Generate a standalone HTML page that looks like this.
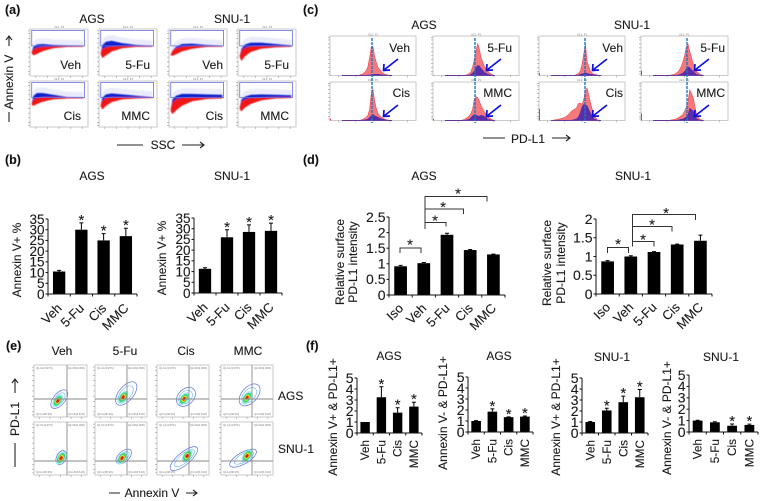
<!DOCTYPE html>
<html lang="en">
<head>
<meta charset="utf-8">
<title>Annexin V and PD-L1 figure</title>
<style>
html,body{margin:0;padding:0;background:#fff;width:762px;height:501px;overflow:hidden}
svg{display:block;font-family:"Liberation Sans",Arial,sans-serif;fill:#222;filter:blur(0.3px)}
text{fill:#1a1a1a;stroke:#1a1a1a;stroke-width:0.12}
text.tiny{font-size:2.6px;fill:#777;stroke:none}
.lab{font-size:12px}
.bold{font-size:12.5px;font-weight:bold;fill:#111}
</style>
</head>
<body>
<svg id="fig" width="762" height="501" viewBox="0 0 762 501" xmlns="http://www.w3.org/2000/svg">
<defs>
<filter id="soft" x="-5%" y="-5%" width="110%" height="110%"><feGaussianBlur stdDeviation="0.5"/></filter>
<filter id="softer" x="-5%" y="-5%" width="110%" height="110%"><feGaussianBlur stdDeviation="0.28"/></filter>
</defs>
<rect width="762" height="501" fill="#fff"/>

<text class="bold" x="5" y="14">(a)</text>
<text class="lab" x="92" y="23" text-anchor="middle">AGS</text>
<text class="lab" x="232" y="23" text-anchor="middle">SNU-1</text>
<text class="lab" transform="translate(13,82) rotate(-90)" text-anchor="middle">Annexin V</text>
<path d="M9 122V112M9 46V36M6 40l3-4 3 4" fill="none" stroke="#222" stroke-width="1.1"/>
<text class="lab" x="163" y="149" text-anchor="middle">SSC</text>
<path d="M117 145H143M182 145H204M200 142l4 3-4 3" fill="none" stroke="#222" stroke-width="1.1"/>

<text class="bold" x="5" y="164">(b)</text>
<text class="lab" x="92" y="180" text-anchor="middle">AGS</text>
<text class="lab" x="232" y="180" text-anchor="middle">SNU-1</text>
<text font-size="11.8" transform="translate(21,260) rotate(-90)" text-anchor="middle">Annexin V+ %</text>
<text font-size="11.8" transform="translate(166,258) rotate(-90)" text-anchor="middle">Annexin V+ %</text>

<text class="bold" x="303" y="14">(c)</text>
<text class="lab" x="424" y="29" text-anchor="middle">AGS</text>
<text class="lab" x="632" y="29" text-anchor="middle">SNU-1</text>
<text class="lab" x="528" y="143" text-anchor="middle">PD-L1</text>
<path d="M483 138H505M552 138H570M566 135l4 3-4 3" fill="none" stroke="#222" stroke-width="1.1"/>

<text class="bold" x="303" y="164">(d)</text>
<text class="lab" x="424" y="180" text-anchor="middle">AGS</text>
<text class="lab" x="633" y="180" text-anchor="middle">SNU-1</text>
<text class="lab" transform="translate(344,262) rotate(-90)" text-anchor="middle">Relative surface</text>
<text class="lab" transform="translate(357,262) rotate(-90)" text-anchor="middle">PD-L1 intensity</text>
<text class="lab" transform="translate(551,263) rotate(-90)" text-anchor="middle">Relative surface</text>
<text class="lab" transform="translate(565,263) rotate(-90)" text-anchor="middle">PD-L1 intensity</text>

<text class="bold" x="6" y="350">(e)</text>
<text class="lab" x="62" y="355" text-anchor="middle">Veh</text>
<text class="lab" x="125" y="355" text-anchor="middle">5-Fu</text>
<text class="lab" x="186" y="355" text-anchor="middle">Cis</text>
<text class="lab" x="248" y="355" text-anchor="middle">MMC</text>
<text class="lab" x="278" y="400">AGS</text>
<text class="lab" x="278" y="453">SNU-1</text>
<text class="lab" transform="translate(19,419) rotate(-90)" text-anchor="middle">PD-L1</text>
<path d="M15 467V443M15 393V379M12 383l3-4 3 4" fill="none" stroke="#222" stroke-width="1.1"/>
<text class="lab" x="152" y="497" text-anchor="middle">Annexin V</text>
<path d="M109 493H120M186 493H197M193 490l4 3-4 3" fill="none" stroke="#222" stroke-width="1.1"/>

<text class="bold" x="306" y="350">(f)</text>
<text class="lab" x="389" y="360" text-anchor="middle">AGS</text>
<text class="lab" x="499" y="360" text-anchor="middle">AGS</text>
<text class="lab" x="612" y="361" text-anchor="middle">SNU-1</text>
<text class="lab" x="721" y="361" text-anchor="middle">SNU-1</text>
<text class="lab" transform="translate(337,417) rotate(-90)" text-anchor="middle">Annexin V+ &amp; PD-L1+</text>
<text class="lab" transform="translate(447,413) rotate(-90)" text-anchor="middle">Annexin V- &amp; PD-L1+</text>
<text class="lab" transform="translate(560,417) rotate(-90)" text-anchor="middle">Annexin V+ &amp; PD-L1+</text>
<text class="lab" transform="translate(671,418) rotate(-90)" text-anchor="middle">Annexin V- &amp; PD-L1+</text>
</svg>

<script>
/* ---------- bar chart data ---------- */
const groupLabels = ['Veh', '5-Fu', 'Cis', 'MMC'];
const isoGroupLabels = ['Iso', 'Veh', '5-Fu', 'Cis', 'MMC'];

const bAgsValues = [10.5, 30, 25, 27];
const bAgsErrors = [0.5, 3.2, 3.2, 3.7];
const bAgsStars = [0, 1, 1, 1];
const bSnuValues = [11.3, 26, 28.5, 29];
const bSnuErrors = [0.5, 3.5, 3.3, 3.6];
const bSnuStars = [0, 1, 1, 1];
const bTicks = [0, 5, 10, 15, 20, 25, 30, 35];

const dAgsValues = [0.92, 1.02, 1.93, 1.44, 1.30];
const dAgsErrors = [0.03, 0.02, 0.05, 0.02, 0.01];
const dAgsTicks = [0, 0.5, 1, 1.5, 2, 2.5];
const dSnuValues = [0.87, 1.0, 1.12, 1.32, 1.42];
const dSnuErrors = [0.02, 0.02, 0.01, 0.01, 0.15];
const dSnuTicks = [0, 0.5, 1, 1.5, 2];

const f1Values = [1, 3.25, 1.85, 2.4];
const f1Errors = [0, 0.95, 0.45, 0.4];
const f1Stars = [0, 1, 1, 1];
const f2Values = [1, 1.85, 1.35, 1.4];
const f2Errors = [0.03, 0.25, 0.03, 0.05];
const f2Stars = [0, 1, 1, 1];
const f3Values = [1, 2.05, 2.8, 3.25];
const f3Errors = [0.05, 0.2, 0.55, 0.7];
const f3Stars = [0, 1, 1, 1];
const f4Values = [1, 0.85, 0.55, 0.62];
const f4Errors = [0.03, 0.05, 0.15, 0.07];
const f4Stars = [0, 0, 1, 1];
const fTicks = [0, 1, 2, 3, 4, 5];

/* ---------- scatter cloud data (percent of axis) ---------- */
const sscStops = [3, 6, 12, 22, 40, 65, 92];
const scatterPanelLabels = ['Veh', '5-Fu', 'Veh', '5-Fu', 'Cis', 'MMC', 'Cis', 'MMC'];
const scatterRedTop = [
  [52, 57, 60, 62, 63, 64, 63], [50, 58, 61, 63, 64, 64, 63], [46, 54, 59, 62, 64, 64, 63], [44, 55, 60, 63, 64, 64, 63],
  [52, 60, 63, 65, 65, 64, 63], [50, 58, 63, 65, 65, 65, 64], [40, 54, 60, 63, 64, 64, 64], [44, 56, 60, 63, 64, 65, 65]
];
const scatterRedBottom = [
  [48, 44, 47, 53, 59, 62, 62], [46, 38, 44, 52, 59, 62, 62], [44, 43, 46, 52, 58, 62, 62], [40, 32, 42, 51, 58, 61, 62],
  [48, 46, 50, 55, 60, 62, 62], [44, 38, 46, 54, 60, 62, 63], [34, 28, 36, 46, 56, 61, 62], [38, 34, 42, 50, 58, 62, 63]
];
const scatterBlueTop = [
  [52, 62, 67, 68, 66, 65, 64], [50, 66, 73, 75, 70, 66, 64], [46, 54, 62, 68, 69, 66, 64], [44, 58, 67, 71, 71, 68, 65],
  [52, 68, 74, 74, 70, 65, 64], [50, 64, 71, 73, 71, 68, 65], [40, 60, 68, 72, 72, 71, 70], [44, 60, 66, 70, 71, 70, 69]
];

/* ---------- histogram data (percent of plot height) ---------- */
const histBins = [14, 22, 30, 34, 38, 42, 44, 46, 48, 50, 52, 54, 56, 60, 64, 68, 72];
const histPanelLabels = ['Veh', '5-Fu', 'Veh', '5-Fu', 'Cis', 'MMC', 'Cis', 'MMC'];
const histRed = [
  [0, 0, 0, 1, 4, 12, 22, 45, 72, 74, 48, 32, 20, 9, 3, 1, 0],
  [0, 0, 0, 0, 1, 5, 10, 22, 40, 62, 82, 66, 45, 22, 10, 3, 0],
  [0, 0, 0, 0, 0, 1, 3, 6, 12, 28, 55, 80, 35, 10, 3, 1, 0],
  [0, 0, 0, 1, 3, 8, 14, 22, 34, 50, 72, 80, 62, 30, 10, 3, 0],
  [0, 0, 0, 0, 3, 8, 14, 28, 70, 82, 50, 30, 18, 8, 3, 1, 0],
  [0, 0, 0, 1, 5, 12, 18, 30, 55, 62, 60, 50, 38, 22, 10, 3, 0],
  [0, 3, 8, 15, 25, 30, 35, 45, 45, 42, 55, 80, 84, 45, 12, 2, 0],
  [0, 0, 0, 1, 3, 6, 9, 12, 16, 24, 34, 50, 80, 60, 14, 3, 0]
];
const histBlue = [
  [0, 0, 0, 0, 0, 0, 1, 1, 2, 3, 3, 3, 3, 2, 1, 0, 0],
  [0, 0, 0, 0, 0, 1, 3, 6, 12, 20, 26, 24, 18, 8, 3, 1, 0],
  [0, 0, 0, 0, 0, 0, 1, 1, 3, 4, 5, 7, 5, 3, 2, 1, 0],
  [0, 0, 0, 0, 0, 1, 2, 4, 6, 10, 16, 22, 20, 10, 3, 1, 0],
  [0, 0, 0, 0, 1, 2, 4, 8, 13, 16, 12, 10, 8, 4, 2, 0, 0],
  [0, 0, 0, 0, 1, 3, 7, 12, 16, 14, 12, 11, 14, 10, 3, 1, 0],
  [0, 0, 0, 0, 1, 3, 5, 10, 20, 35, 42, 40, 38, 18, 4, 1, 0],
  [0, 0, 0, 0, 0, 1, 2, 3, 4, 6, 9, 15, 32, 25, 4, 1, 0]
];
const histLeftSpike = [1, 1, 6, 12, 4, 4, 30, 18];

/* ---------- contour data (percent of axis) ---------- */
const contourPanelLabels = ['Veh', '5-Fu', 'Cis', 'MMC', 'Veh', '5-Fu', 'Cis', 'MMC'];
const contourCenterX = [45, 54, 52, 50, 51, 52, 58, 50];
const contourCenterY = [31, 38, 35, 37, 32, 32, 36, 36];
const contourLong = [21, 27, 21, 25, 14, 18, 33, 29];
const contourShort = [11, 14, 15, 15, 9, 10, 12, 11];
const contourTilt = [-50, -50, -45, -48, -65, -42, -40, -30];
const contourShift = [0.2, 0.35, 0.25, 0.3, 0.05, 0.25, -0.25, -0.3];

const svg = document.getElementById('fig');
const NS = 'http://www.w3.org/2000/svg';
function mk(tag, attrs, parent) {
  const n = document.createElementNS(NS, tag);
  for (const k in attrs) n.setAttribute(k, attrs[k]);
  (parent || svg).appendChild(n);
  return n;
}

/* ---------- bar charts ---------- */
function barChart(prefix, box, labels, values, errors, stars, ticks, opts) {
  const g = mk('g', {});
  
  
  const maxV = ticks[ticks.length - 1];
  const yAxis = v => box.base - (v / maxV) * (box.base - box.top);
  const band = (box.x1 - box.x0) / values.length;
  const xBand = i => box.x0 + band * (i + 0.5);

  values.forEach((v, i) => {
    const bar = mk('rect', { x: xBand(i) - box.barW / 2, y: yAxis(v), width: box.barW, height: box.base - yAxis(v), fill: '#000' }, g);
    
    
    const topY = yAxis(v + errors[i]);
    if (errors[i] > 0) {
      const err = mk('path', { d: 'M' + xBand(i) + ' ' + yAxis(v) + 'V' + topY + 'M' + (xBand(i) - 2) + ' ' + topY + 'H' + (xBand(i) + 2), stroke: '#000', fill: 'none', 'stroke-width': 1 }, g);
      
      
    }
    if (stars && stars[i]) {
      const star = mk('text', { x: xBand(i), y: topY + 2, 'text-anchor': 'middle', 'font-size': 15 }, g);
      star.textContent = '*';
      
      
    }
    const lab = mk('text', opts.rot === -90
      ? { transform: 'translate(' + (xBand(i) + 4) + ',' + (box.base + 7) + ') rotate(-90)', 'text-anchor': 'end', 'font-size': 11.8 }
      : { transform: 'translate(' + (xBand(i) + 3.5) + ',' + (box.base + opts.labDy) + ') rotate(-45)', 'text-anchor': 'end', 'font-size': 13 }, g);
    lab.textContent = labels[i];
    
    
  });

  const yLine = mk('path', { d: 'M' + box.x0 + ' ' + box.top + 'V' + box.base, stroke: '#111', 'stroke-width': 1, fill: 'none' }, g);
  
  
  const xLine = mk('path', { d: 'M' + box.x0 + ' ' + box.base + 'H' + box.x1, stroke: '#111', 'stroke-width': 1, fill: 'none' }, g);
  
  

  for (let i = 0; i <= values.length; i++) {
    const t = mk('path', { d: 'M' + (box.x0 + band * i) + ' ' + box.base + 'v2.5', stroke: '#111', fill: 'none' }, g);
    
    
  }
  ticks.forEach(v => {
    const t = mk('path', { d: 'M' + (box.x0 - 2.5) + ' ' + yAxis(v) + 'H' + box.x0, stroke: '#111', fill: 'none' }, g);
    
    
    const l = mk('text', { x: box.x0 - 3.5, y: yAxis(v) + 4.8, 'text-anchor': 'end', 'font-size': opts.tickFont }, g);
    l.textContent = String(v);
    
    
  });
}

barChart('b-ags', { x0: 48, x1: 137, top: 219, base: 294, barW: 12.3 }, groupLabels, bAgsValues, bAgsErrors, bAgsStars, bTicks, { rot: -45, labDy: 15, tickFont: 13.5 });
barChart('b-snu1', { x0: 194, x1: 282, top: 218, base: 293, barW: 12.3 }, groupLabels, bSnuValues, bSnuErrors, bSnuStars, bTicks, { rot: -45, labDy: 15, tickFont: 13.5 });
barChart('d-ags', { x0: 389, x1: 505, top: 217, base: 295, barW: 12.7 }, isoGroupLabels, dAgsValues, dAgsErrors, null, dAgsTicks, { rot: -45, labDy: 14, tickFont: 14 });
barChart('d-snu1', { x0: 596, x1: 712, top: 219, base: 294, barW: 12.7 }, isoGroupLabels, dSnuValues, dSnuErrors, null, dSnuTicks, { rot: -45, labDy: 14, tickFont: 14 });
barChart('f1', { x0: 357, x1: 422, top: 378, base: 433, barW: 9.4 }, groupLabels, f1Values, f1Errors, f1Stars, fTicks, { rot: -90, tickFont: 14 });
barChart('f2', { x0: 468, x1: 533, top: 377, base: 432, barW: 9.6 }, groupLabels, f2Values, f2Errors, f2Stars, fTicks, { rot: -90, tickFont: 14 });
barChart('f3', { x0: 582, x1: 648, top: 378, base: 433, barW: 9.6 }, groupLabels, f3Values, f3Errors, f3Stars, fTicks, { rot: -90, tickFont: 14 });
barChart('f4', { x0: 689, x1: 758, top: 375, base: 432, barW: 9.8 }, groupLabels, f4Values, f4Errors, f4Stars, fTicks, { rot: -90, tickFont: 14 });

/* significance brackets in panel d */
function bracket(x1, x2, y, leftDrop, rightDrop, starX, starY) {
  const p = mk('path', { d: 'M' + x1 + ' ' + (y + leftDrop) + 'V' + y + 'H' + x2 + 'V' + (y + rightDrop), fill: 'none', stroke: '#333', 'stroke-width': 1 });
  
  
  const s = mk('text', { x: starX, y: starY + 8, 'text-anchor': 'middle', 'font-size': 15 });
  s.textContent = '*';
  
  
}
bracket(400, 421, 248, 5, 5, 410, 241.5);
bracket(425, 446, 222.5, 6.5, 4, 435, 217.5);
bracket(425, 463.5, 209, 13.5, 5, 443, 204);
bracket(425, 487, 196.5, 12.5, 5, 458, 190.5);
bracket(607.5, 628.5, 247.5, 5.5, 5.5, 618, 241);
bracket(632.5, 654, 241.5, 5, 5, 643, 236.5);
bracket(632.5, 672, 226.5, 15, 5, 652, 221.5);
bracket(632.5, 695.5, 214.5, 12, 5.5, 666, 210);

/* ---------- scatter plots (panel a) ---------- */
function flowFrame(g, prefix, x, y, w, h) {
  const r = mk('rect', { x: x, y: y, width: w, height: h, fill: '#fff', stroke: '#bdbdbd', 'stroke-width': 0.8 }, g);
  
  
  const tk = mk('path', { d: [0.04, 0.1, 0.2, 0.3, 0.4, 0.5, 0.6, 0.7, 0.8, 0.9, 0.96].map(f => 'M' + (x - 2) + ' ' + (y + h * f) + 'h2').join('') + [0.1, 0.3, 0.5, 0.7, 0.9].map(f => 'M' + (x + w * f) + ' ' + (y + h) + 'v2').join(''), stroke: '#999', 'stroke-width': 0.6, fill: 'none' }, g);
  
  
}
const scatterX0 = [30, 99, 169, 238];
const scatterW = [58, 58, 58, 58];
const scatterRowY = [29, 81];
const scatterRowH = [47, 46];

scatterPanelLabels.forEach((lab, i) => {
  const col = i % 4, row = Math.floor(i / 4);
  const px = scatterX0[col], py = scatterRowY[row], pw = scatterW[col], ph = scatterRowH[row];
  const xA = v => px + v / 100 * pw;
  const yA = v => py + ph - v / 100 * ph;
  const g = mk('g', {});
  
  
  flowFrame(g, 'annexin', px, py, pw, ph);

  const band = (top, bottom) => sscStops.map((s, k) => xA(s) + ',' + yA(top[k])).concat(sscStops.slice().reverse().map((s, k) => xA(s) + ',' + yA(bottom[bottom.length - 1 - k]))).join(' ');

  const clouds = mk('g', { filter: 'url(#soft)' }, g);
  const haze = mk('polygon', { points: band(scatterBlueTop[i].map(v => Math.min(v + 12, 94)), scatterRedTop[i]), fill: '#5566e0', opacity: 0.13 }, clouds);
  
  
  const blue = mk('polygon', { points: band(scatterBlueTop[i], scatterRedTop[i]), fill: '#1020cc' }, clouds);
  
  
  const red = mk('polygon', { points: band(scatterRedTop[i], scatterRedBottom[i]), fill: '#f01818' }, clouds);
  
  

  const gate = mk('rect', { x: xA(3), y: yA(97), width: pw * 0.91, height: ph * 0.33, fill: 'none', stroke: '#6a70d8', 'stroke-width': 0.8 }, g);
  
  

  const rightEdge = [81, 150, 223, 289][col];
  const t = mk('text', { x: rightEdge, y: row ? 120 : 69, 'text-anchor': 'end', 'font-size': 12 }, g);
  t.textContent = lab;
  
  
});

/* ---------- histograms (panel c) ---------- */
const histX0 = [330, 433, 539, 641];
const histW = [86, 86, 86, 87];
const histRowY = [36, 82];
const histRowH = [39.5, 38.5];
const histDashX = [372, 475, 585, 687];
const histLabelRight = [410, 512, 623, 725];

histPanelLabels.forEach((lab, i) => {
  const col = i % 4, row = Math.floor(i / 4);
  const px = histX0[col], py = histRowY[row], pw = histW[col], ph = histRowH[row];
  const xA = v => px + v / 100 * pw;
  const yA = v => py + ph - v / 100 * ph;
  const g = mk('g', {});
  
  
  flowFrame(g, 'histogram', px, py, pw, ph);

  const area = vals => 'M' + xA(histBins[0]) + ' ' + yA(0) + vals.map((v, k) => 'L' + xA(histBins[k]) + ' ' + yA(v)).join('') + 'L' + xA(histBins[histBins.length - 1]) + ' ' + yA(0) + 'Z';
  const fills = mk('g', { filter: 'url(#softer)' }, g);
  const red = mk('path', { d: area(histRed[i]), fill: '#f4787c', stroke: '#e8353c', 'stroke-width': 0.5 }, fills);
  
  
  const blue = mk('path', { d: area(histBlue[i]), fill: '#5a2fa8', stroke: '#2a20b0', 'stroke-width': 0.4 }, fills);
  
  
  const spike = mk('rect', { x: px, y: yA(histLeftSpike[i]), width: 1, height: yA(0) - yA(histLeftSpike[i]), fill: '#e8353c' }, fills);
  
  

  const ax = px + 68, ay = py + 23;
  const arrow = mk('path', { d: 'M' + ax + ' ' + ay + 'L' + (ax - 14) + ' ' + (ay + 11) + 'M' + (ax - 14) + ' ' + (ay + 5) + 'L' + (ax - 14.5) + ' ' + (ay + 11.5) + 'L' + (ax - 8) + ' ' + (ay + 11), fill: 'none', stroke: '#1010e0', 'stroke-width': 1.7 }, g);
  
  

  const t = mk('text', { x: histLabelRight[col], y: row ? 97 : 52, 'text-anchor': 'end', 'font-size': 12 }, g);
  t.textContent = lab;
  
  
});
histDashX.forEach(x => {
  const d = mk('path', { d: 'M' + x + ' 38V123', stroke: '#1a78c8', 'stroke-width': 1.4, 'stroke-dasharray': '3 1', fill: 'none' });
  
  
});

/* ---------- contour plots (panel e) ---------- */
const contourX0 = [34, 95, 157, 221];
const contourW = [53, 52, 52, 52];
const contourRowY = [365, 422];
const contourRowH = [52, 53];
const contourCrossX = [67, 127, 189, 252];
const contourCrossY = [399, 461];
const coreLong = [7.5, 5.5, 3.4, 2.1];
const coreShort = [4, 3.2, 2.2, 1.4];
const coreColors = ['#9fe8f0', '#38d878', '#f0e020', '#e81818'];

contourPanelLabels.forEach((lab, i) => {
  const col = i % 4, row = Math.floor(i / 4);
  const px = contourX0[col], py = contourRowY[row], pw = contourW[col], ph = contourRowH[row];
  const xA = v => px + v / 100 * pw;
  const yA = v => py + ph - v / 100 * ph;
  const g = mk('g', {});
  
  
  flowFrame(g, 'contour', px, py, pw, ph);

  const cx = xA(contourCenterX[i]), cy = yA(contourCenterY[i]);
  const layer = mk('g', { filter: 'url(#softer)' }, g);
  const rot = 'rotate(' + contourTilt[i] + ' ' + cx + ' ' + cy + ')';
  const outerR = contourLong[i] / 100 * pw;
  const outer = mk('ellipse', { cx: cx + contourShift[i] * outerR, cy: cy, rx: outerR, ry: contourShort[i] / 100 * pw, transform: rot, fill: 'none', stroke: '#5a70e0', 'stroke-width': 0.7 }, layer);
  
  
  const mid = mk('ellipse', { cx: cx + contourShift[i] * outerR * 0.8, cy: cy, rx: outerR * 0.72, ry: contourShort[i] / 100 * pw * 0.72, transform: rot, fill: 'none', stroke: '#60b0ee', 'stroke-width': 0.6 }, layer);
  
  
  coreColors.forEach((c, k) => {
    const e = mk('ellipse', { cx: cx, cy: cy, rx: Math.min(coreLong[k], outerR), ry: coreShort[k], transform: 'rotate(-55 ' + cx + ' ' + cy + ')', fill: c }, layer);
    
    
  });

  const cross = mk('path', { d: 'M' + contourCrossX[col] + ' ' + py + 'V' + (py + ph) + 'M' + px + ' ' + contourCrossY[row] + 'H' + (px + pw), stroke: '#8a8a8a', 'stroke-width': 0.9, fill: 'none' }, g);
  
  
});

/* ---------- tiny cytometer captions ---------- */
function tinyCaption(x, y, s, anchor) {
  const t = mk('text', { x: x, y: y, class: 'tiny', 'text-anchor': anchor || 'middle' });
  t.textContent = s;
  
  
}
[[59, 28], [128, 28], [198, 28], [267, 28], [59, 80], [128, 80], [198, 80], [267, 80]].forEach(p => tinyCaption(p[0], p[1], 'U2.1: P1'));
[[373, 35.5], [476, 35.5], [582, 35.5], [684, 35.5], [373, 81], [476, 81], [582, 81], [684, 81]].forEach(p => tinyCaption(p[0], p[1], 'U2.1: P1'));
contourX0.forEach((x, c) => {
  contourRowY.forEach((y, r) => {
    tinyCaption(x + 2, y + 4, 'Q1-UL(3.97%)', 'start');
    tinyCaption(x + contourW[c] - 2, y + 4, 'Q2-UR(2.09%)', 'end');
    tinyCaption(x + 2, y + contourRowH[r] - 2, 'Q3-LL(90.3%)', 'start');
    tinyCaption(x + contourW[c] - 2, y + contourRowH[r] - 2, 'Q4-LR(3.61%)', 'end');
  });
});
</script>
</body>
</html>
